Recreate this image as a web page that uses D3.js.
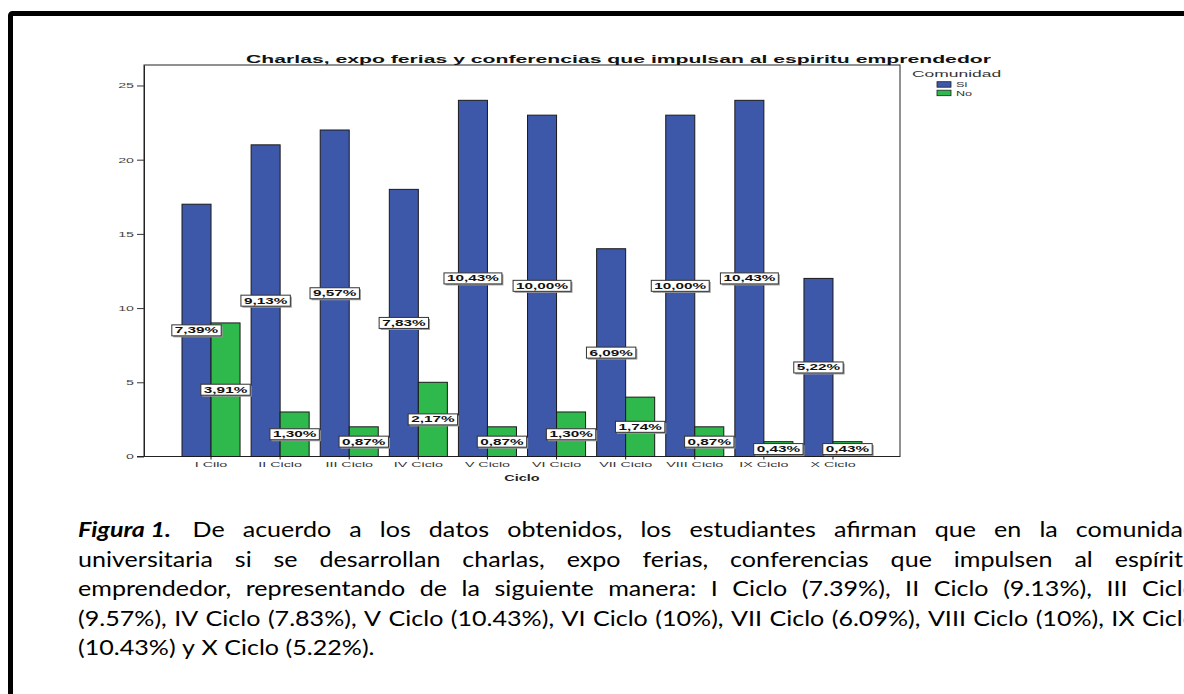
<!DOCTYPE html>
<html>
<head>
<meta charset="utf-8">
<script src="https://cdn.jsdelivr.net/npm/d3@7"></script>
<style>
  body { margin: 0; background: #fff; }
  svg { display: block; }
</style>
</head>
<body>
<svg id="chart"></svg>
<script>
        const ciclos = ['I Cilo', 'II Ciclo', 'III Ciclo', 'IV Ciclo', 'V Ciclo', 'VI Ciclo', 'VII Ciclo', 'VIII Ciclo', 'IX Ciclo', 'X Ciclo']
        const si = [17, 21, 22, 18, 24, 23, 14, 23, 24, 12]
        const no = [9, 3, 2, 5, 2, 3, 4, 2, 1, 1]
        const grupos = ['Si', 'No']
        const yTicks = [0, 5, 10, 15, 20, 25]

        const title = 'Charlas, expo ferias y conferencias que impulsan al espiritu emprendedor'
        const xLabel = 'Ciclo'
        const legendTitle = 'Comunidad'

        const captionLead = 'Figura 1.'
        const captionLines = [
            'De acuerdo a los datos obtenidos, los estudiantes afirman que en la comunidad',
            'universitaria si se desarrollan charlas, expo ferias, conferencias que impulsen al espíritu',
            'emprendedor, representando de la siguiente manera: I Ciclo (7.39%), II Ciclo (9.13%), III Ciclo',
            '(9.57%), IV Ciclo (7.83%), V Ciclo (10.43%), VI Ciclo (10%), VII Ciclo (6.09%), VIII Ciclo (10%), IX Ciclo',
            '(10.43%) y X Ciclo (5.22%).'
        ]

        const blue = '#3d57a9'
        const green = '#2fb84b'
        const stretch = 1.9

        let w = 1184
        let h = 694

        const svg = d3.select('#chart').attr('width', w).attr('height', h)
            .attr('font-family', 'Liberation Sans, Arial, sans-serif')

        // outer frame of the figure
        svg.append('rect')
            .attr('x', 10.5).attr('y', 13.5)
            .attr('width', 1400).attr('height', 900)
            .attr('rx', 2)
            .attr('fill', 'none').attr('stroke', '#000').attr('stroke-width', 5)

        const plot = { left: 144, right: 900, top: 65, bottom: 456.5 }

        const data = ciclos.map((c, i) => ({ ciclo: c, Si: si[i], No: no[i] }))
        const total = d3.sum(si) + d3.sum(no)
        const pct = v => d3.format('.2f')(v / total * 100).replace('.', ',') + '%'

        const x0 = d3.scaleBand().domain(ciclos).range([182, 862]).paddingInner(0.16).paddingOuter(0)
        const x1 = d3.scaleBand().domain(grupos).range([0, x0.bandwidth()])
        const y = d3.scaleLinear().domain([0, 26.38]).range([plot.bottom, plot.top])
        const color = d3.scaleOrdinal(grupos, [blue, green])

        // widen text like the SPSS export
        function widen(sel, k) {
            sel.each(function () {
                const t = d3.select(this)
                const len = this.getComputedTextLength()
                t.attr('textLength', len * k).attr('lengthAdjust', 'spacingAndGlyphs')
            })
        }

        // plot frame
        svg.append('rect')
            .attr('x', plot.left).attr('y', plot.top)
            .attr('width', plot.right - plot.left).attr('height', plot.bottom - plot.top)
            .attr('fill', 'none').attr('stroke', '#222').attr('stroke-width', 1)

        // y axis
        const yAxis = svg.append('g')
            .attr('transform', `translate(${plot.left},0)`)
            .call(d3.axisLeft(y).tickValues(yTicks).tickSize(7).tickSizeOuter(0).tickPadding(3))
        yAxis.select('.domain').attr('stroke', '#222')
        yAxis.selectAll('line').attr('stroke', '#333')
        yAxis.selectAll('text').attr('font-size', 7.5).attr('fill', '#444').attr('font-family', null)
        widen(yAxis.selectAll('text'), stretch)

        // x axis
        const xAxis = svg.append('g')
            .attr('transform', `translate(0,${plot.bottom})`)
            .call(d3.axisBottom(x0).tickSize(3).tickSizeOuter(0).tickPadding(2))
        xAxis.select('.domain').remove()
        xAxis.selectAll('line').attr('stroke', '#222')
        xAxis.selectAll('text').attr('font-size', 7.5).attr('fill', '#333').attr('font-family', null)
        widen(xAxis.selectAll('text'), stretch)

        svg.append('line')
            .attr('x1', plot.left - 7).attr('x2', plot.right)
            .attr('y1', plot.bottom).attr('y2', plot.bottom)
            .attr('stroke', '#222')

        // bars
        const groups = svg.append('g').selectAll('g')
            .data(data).enter().append('g')
            .attr('transform', d => `translate(${x0(d.ciclo)},0)`)

        groups.selectAll('rect')
            .data(d => grupos.map(k => ({ key: k, value: d[k] })))
            .enter().append('rect')
            .attr('x', d => x1(d.key))
            .attr('y', d => y(d.value))
            .attr('width', x1.bandwidth())
            .attr('height', d => y(0) - y(d.value))
            .attr('fill', d => color(d.key))
            .attr('stroke', '#1a1a1a').attr('stroke-width', 1)

        // percentage labels
        const labels = svg.append('g').selectAll('g')
            .data(data.flatMap(d => grupos.map(k => ({ ciclo: d.ciclo, key: k, value: d[k] }))))
            .enter().append('g')
            .attr('transform', d => `translate(${x0(d.ciclo) + x1(d.key) + x1.bandwidth() / 2},${(y(d.value) + y(0)) / 2})`)

        labels.append('rect').attr('class', 'shadow')
        labels.append('rect').attr('class', 'box')
        const ltext = labels.append('text')
            .attr('text-anchor', 'middle')
            .attr('y', 3)
            .attr('font-size', 8.5).attr('font-weight', 'bold').attr('fill', '#111')
            .text(d => pct(d.value))
        widen(ltext, 1.8)
        labels.each(function () {
            const g = d3.select(this)
            const tw = +g.select('text').attr('textLength')
            const bw = tw + 6
            g.select('.shadow').attr('x', -bw / 2 + 1.5).attr('y', -5.5 + 1.5)
                .attr('width', bw).attr('height', 11).attr('fill', '#9a9a9a')
            g.select('.box').attr('x', -bw / 2).attr('y', -5.5)
                .attr('width', bw).attr('height', 11)
                .attr('fill', '#fff').attr('stroke', '#333').attr('stroke-width', 1)
        })

        // title and axis label
        svg.append('text')
            .attr('x', 618.5).attr('y', 62.5)
            .attr('text-anchor', 'middle')
            .attr('font-size', 10.5).attr('font-weight', 'bold').attr('fill', '#111')
            .attr('textLength', 745).attr('lengthAdjust', 'spacingAndGlyphs')
            .text(title)

        const xl = svg.append('text')
            .attr('x', (plot.left + plot.right) / 2).attr('y', 481)
            .attr('text-anchor', 'middle')
            .attr('font-size', 9).attr('font-weight', 'bold').attr('fill', '#222')
            .text(xLabel)
        widen(xl, 1.6)

        // legend
        const lg = svg.append('text')
            .attr('x', 912).attr('y', 76.7)
            .attr('font-size', 8.5).attr('fill', '#333')
            .text(legendTitle)
        widen(lg, 2.05)

        const legend = svg.append('g').selectAll('g')
            .data(grupos).enter().append('g')
            .attr('transform', (d, i) => `translate(937,${81.7 + i * 8.5})`)
        legend.append('rect')
            .attr('width', 14).attr('height', 5.5)
            .attr('fill', d => color(d)).attr('stroke', '#222').attr('stroke-width', 0.8)
        const lt = legend.append('text')
            .attr('x', 19).attr('y', 5.5)
            .attr('font-size', 7).attr('fill', '#333')
            .text(d => d)
        widen(lt, 1.8)

        // caption under the chart, justified
        const capLeft = 78
        const capRight = 1197
        const capTop = 537
        const capStep = 29.5
        const fs = 20.5

        const cap = svg.append('g')
            .attr('font-family', 'Lato, "Open Sans", sans-serif')
            .attr('font-size', fs).attr('fill', '#000')

        function measure(words, bold) {
            const tmp = cap.append('text')
            const ws = words.map(t => {
                tmp.text(t).attr('font-weight', bold ? 'bold' : null)
                return tmp.node().getComputedTextLength()
            })
            tmp.remove()
            return ws
        }

        // squeeze glyphs so the tightest line (the 4th) just fills the width
        const natural = measure([captionLines[3]])[0]
        const sx = (capRight - capLeft) / (natural * 1.02)
        const target = (capRight - capLeft) / sx
        const space = measure(['a a'])[0] - measure(['aa'])[0]

        const lineWords = captionLines.map((l, i) => i === 0 ? [captionLead].concat(l.split(' ')) : l.split(' '))
        lineWords.forEach((words, i) => {
            const ws = words.map((t, j) => measure([t], i === 0 && j === 0)[0])
            const last = i === lineWords.length - 1
            const gap = last ? space : (target - d3.sum(ws)) / (words.length - 1)
            let xx = 0
            const row = cap.append('g')
                .attr('transform', `translate(${capLeft},${capTop + i * capStep}) scale(${sx},1)`)
            words.forEach((t, j) => {
                const lead = i === 0 && j === 0
                row.append('text')
                    .attr('x', xx)
                    .attr('font-weight', lead ? 'bold' : null)
                    .attr('font-style', lead ? 'italic' : null)
                    .text(t)
                xx += ws[j] + gap
            })
        })
</script>
</body>
</html>
